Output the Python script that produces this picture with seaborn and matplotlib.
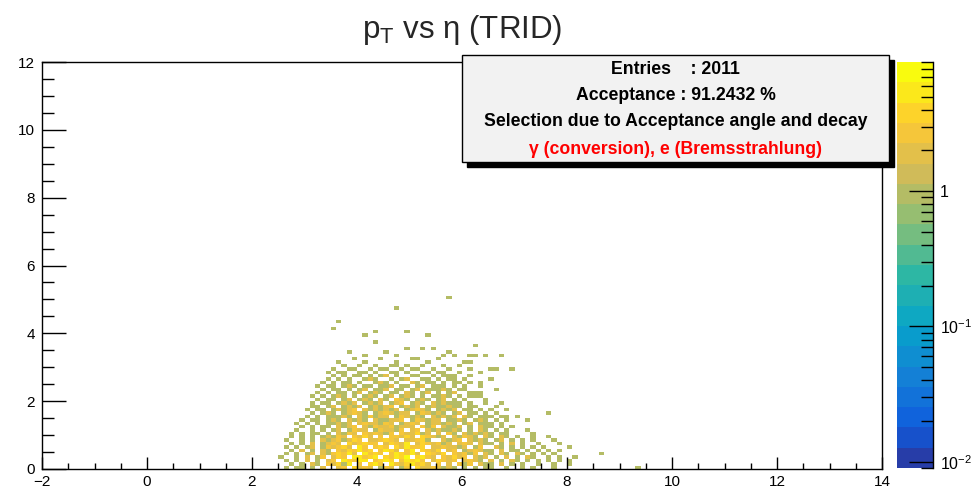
import numpy as np
import pandas as pd
import matplotlib
matplotlib.use("Agg")
import matplotlib.pyplot as plt
import seaborn as sns
from matplotlib.colors import LinearSegmentedColormap, ListedColormap, LogNorm
from matplotlib.ticker import FixedLocator, MultipleLocator, LogLocator, NullFormatter
from matplotlib.patches import Rectangle

# ---------------- data ----------------
# 2D histogram counts, bins of 0.1 x 0.1; first column starts at eta = 2.5,
# first string is the row pt in [5.0, 5.1), last string is pt in [0.0, 0.1).
# '.' = empty bin, digit = entries in the bin; '|' only separates groups of 10 bins.
eta_first_edge = 2.5
bin_width = 0.1
count_rows = [
    "..........|..........|..........|..1",
    "",
    "",
    "..........|..........|..1",
    "",
    "",
    "",
    "..........|.1",
    "",
    "..........|1",
    "..........|........1.|....1",
    "..........|......1...|........1",
    "",
    "..........|........1",
    "..........|..........|..........|.......1",
    "..........|..........|....1..1.1",
    "..........|...1......|1.........|..1",
    "..........|......1...|..1.......|.1.1..11.1|..1",
    "..........|....1....1|.....11...|1",
    "..........|.1....1...|..1.....1.|.....11",
    "..........|..1..1..1.|.11.1..1..|.1..1",
    "..........|1..11..1.1|1..1.11..1|..1...1...|11..1",
    ".........1|.11..11.1.|.11.1..11.|11..1...1.",
    "..........|1.1.11.1.1|2.1..11..1|.111..1",
    ".........1|.1.1..121.|.1.12..11.|1.11.1....|1",
    "........1.|1.11.1..12|1.1..21.11|.1.11.1.1.",
    ".......1.1|1.121.11.1|12.11.12.1|11.1.1..1.",
    "........1.|11.1.12.11|2.11.12.11|121.11....|.1",
    ".......1.1|.11.12.121|.11.21.12.|1.12..111.",
    "......1.1.|121.1.121.|12.121.1.1|121.1.111.",
    ".......1.1|1.12.121.2|1.321.121.|12.1.1...1",
    "......1.11|.1212.1212|.123.121.2|12111.1..1|..1",
    "......11.1|2.1212.121|23.1212.12|11211.11..|.1",
    ".....1.11.|12123.2121|212.12321.|1212.11.1.|1..1",
    "......1.12|1.12321.12|32122.1321|21.12.11.1|.1........|.1",
    ".....1.1.1|1121.21312|2.132121.2|1212.21.11|1.11.1",
    "....1.11.1|21.2121.21|1223.13212|2.1121.121|.1.1...1",
    "...1.1.1.1|1212.23221|32.1232.12|2121.12.11|1.1",
    "....1.1.11|.2123.2132|231222.313|.2112.1.21|1.1.1",
    "...1..1.1.|12.1322.13|2213.23.21|21121.1.21|.1.1...1",
    "..1.1.11.1|.2132.3232|13.322412.|2.31.21212|1.11....1",
    "..1.1.1.12|132.3242.3|.33242.432|12.21321.2|1.21.1..1.|.1",
    ".1..1.1.21|231243.223|432.22341.|.2123.2121|.12.1.1.1.|..1",
    "..1.1.2.12|32.423433.|24325.2432|312.232.21|1.1.2.1..1|...1",
    ".1.1.12.13|2342.53.34|3.425334.2|232212.13.|.21.1.1.1.|1....1",
    "..1.2.1.21|.3243534.3|542.36.432|4.23.12321|1.2.11.1.1|.1.1",
    ".1.1.12.21|34352.5343|.354362.43|24.32313.2|1.21.21.1.|1.1.......|.1",
    "1..1.2.13.|243.56345.|43547.4532|.32423.212|.1.2.1.21.|.1.1..1",
    ".1.1.2.1.2|3.54365.34|64.35463.2|4323.2321.|2.1.21.1.1|.1.1.1",
    "..1.1.21.3|2415.3.453|.53246342.|3.2.313.21|1.2.1.1..1|..1..1",
    ".1.11.1.2.|.23.4232.1|32.13.4223|2121.1.1.1|1..1..1.1.|..1.......|........1",
]

x_range = (-2.0, 14.0)
y_range = (0.0, 12.0)
x_ticks = [-2, 0, 2, 4, 6, 8, 10, 12, 14]
y_ticks = [0, 2, 4, 6, 8, 10, 12]
z_range = (0.009, 9.0)
z_ticks = [0.01, 0.1, 1.0]
z_tick_labels = ["10$^{-2}$", "10$^{-1}$", "1"]
n_contours = 20

title_text = "p$_{\\mathrm{T}}$ vs η (TRID)"
stats_lines = ["Entries    : 2011",
               "Acceptance : 91.2432 %",
               "Selection due to Acceptance angle and decay",
               "γ (conversion), e (Bremsstrahlung)"]
stats_colors = ["black", "black", "black", "#ff0000"]

# ROOT kBird palette
bird_stops = [0.0000, 0.1250, 0.2500, 0.3750, 0.5000, 0.6250, 0.7500, 0.8750, 1.0000]
bird_red = [0.2082, 0.0592, 0.0780, 0.0232, 0.1802, 0.5301, 0.8186, 0.9956, 0.9764]
bird_green = [0.1664, 0.3599, 0.5041, 0.6419, 0.7178, 0.7492, 0.7328, 0.7862, 0.9832]
bird_blue = [0.5293, 0.8684, 0.8385, 0.7914, 0.6425, 0.4662, 0.3499, 0.1968, 0.0539]

# ---------------- build table ----------------
records = []
n_rows = len(count_rows)
for r, row in enumerate(count_rows):
    yi = n_rows - 1 - r
    for c, ch in enumerate(row.replace("|", "")):
        if ch != ".":
            records.append((eta_first_edge + (c + 0.5) * bin_width,
                            (yi + 0.5) * bin_width, int(ch)))
df = pd.DataFrame(records, columns=["eta", "pt", "n"])

# ---------------- style ----------------
sns.set_theme(style="ticks")
plt.rcParams["font.family"] = ["Liberation Sans", "DejaVu Sans"]
plt.rcParams["mathtext.fontset"] = "custom"
plt.rcParams["mathtext.rm"] = "Liberation Sans"
plt.rcParams["mathtext.it"] = "Liberation Sans:italic"
plt.rcParams["mathtext.bf"] = "Liberation Sans:bold"
plt.rcParams["axes.axisbelow"] = False

bird = LinearSegmentedColormap.from_list(
    "bird", list(zip(bird_stops, zip(bird_red, bird_green, bird_blue))), N=256)
cmap = ListedColormap([bird(min((i + 0.99) / n_contours, 1.0)) for i in range(n_contours)])

W, H = 976, 488
fig = plt.figure(figsize=(W / 100, H / 100), dpi=100)
fig.patch.set_facecolor("white")
ax = fig.add_axes([42 / W, 1 - 469 / H, (882 - 42) / W, (469 - 62) / H])
cax = fig.add_axes([897 / W, 1 - 468 / H, 36 / W, 406 / H])

x_edges = np.linspace(x_range[0], x_range[1], 161)
y_edges = np.linspace(y_range[0], y_range[1], 121)
sns.histplot(data=df, x="eta", y="pt", weights="n", bins=(x_edges, y_edges),
             cmap=cmap, ax=ax, cbar=False)
mesh = ax.collections[0]
mesh.set_norm(LogNorm(vmin=z_range[0], vmax=z_range[1]))

ax.set_xlim(*x_range)
ax.set_ylim(*y_range)
ax.set_xlabel("")
ax.set_ylabel("")
ax.set_facecolor("white")
ax.set_axisbelow(False)
ax.xaxis.set_major_locator(FixedLocator(x_ticks))
ax.xaxis.set_minor_locator(MultipleLocator(0.5))
ax.yaxis.set_major_locator(FixedLocator(y_ticks))
ax.yaxis.set_minor_locator(MultipleLocator(0.5))
ax.tick_params(axis="x", which="major", direction="in", length=8.6, width=1,
               labelsize=11, pad=4, top=False, color="black", labelcolor="black")
ax.tick_params(axis="x", which="minor", direction="in", length=4.3, width=1, top=False,
               color="black")
ax.tick_params(axis="y", which="major", direction="in", length=17, width=1,
               labelsize=11, pad=5, right=False, color="black", labelcolor="black")
ax.tick_params(axis="y", which="minor", direction="in", length=8.6, width=1, right=False,
               color="black")
for sp in ax.spines.values():
    sp.set_visible(True)
    sp.set_color("black")
    sp.set_linewidth(1)

cb = fig.colorbar(mesh, cax=cax)
cb.outline.set_visible(False)
cb.set_ticks(z_ticks, labels=z_tick_labels)
cb.minorlocator = LogLocator(base=10, subs=list(range(2, 10)))
cb.minorformatter = NullFormatter()
cax.set_axisbelow(False)
cax.yaxis.set_ticks_position("right")
cax.tick_params(which="major", direction="in", length=17, width=1, labelsize=11.5, pad=5,
                color="black", labelcolor="black")
cax.tick_params(which="minor", direction="in", length=9, width=1, color="black")
cax.spines["right"].set_visible(True)
cax.spines["right"].set_color("black")
cax.spines["right"].set_linewidth(1)

# title
fig.text(462 / W, 1 - 30 / H, title_text, ha="center", va="center", fontsize=22.5)

# stats box
bl, bt, br, bb = 462, 55, 889, 162
shadow = Rectangle(((bl + 5) / W, 1 - (bb + 5) / H), (br - bl) / W, (bb - bt) / H,
                   transform=fig.transFigure, facecolor="black", edgecolor="black",
                   lw=1, zorder=5)
box = Rectangle((bl / W, 1 - bb / H), (br - bl) / W, (bb - bt) / H,
                transform=fig.transFigure, facecolor="#f2f2f2", edgecolor="black",
                lw=1, zorder=6)
fig.add_artist(shadow)
fig.add_artist(box)
line_y = [69, 95, 122, 149]
for txt, col, yy in zip(stats_lines, stats_colors, line_y):
    fig.text((bl + br) / 2 / W, 1 - yy / H, txt, ha="center", va="center",
             fontsize=12.7, fontweight="bold", color=col, zorder=7)

fig.savefig("out.png", dpi=100, facecolor="white")
